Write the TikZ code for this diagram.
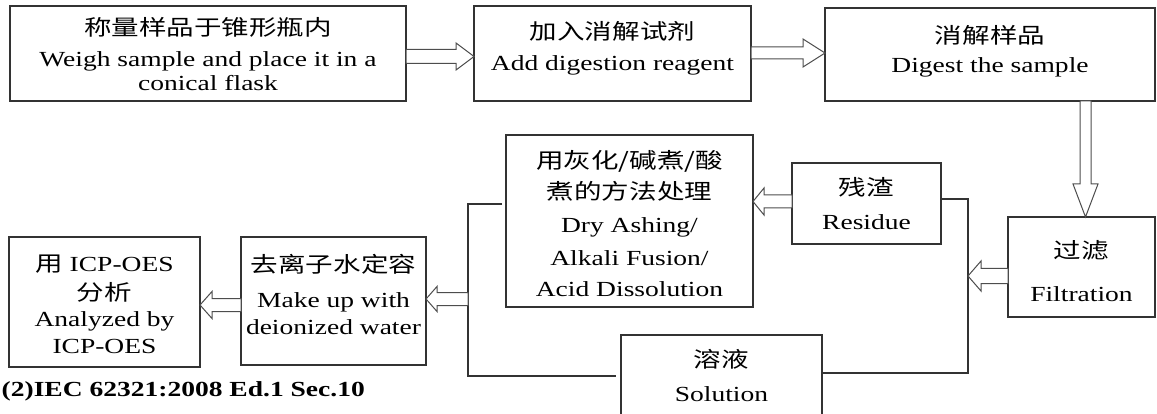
\documentclass[tikz,border=0pt]{standalone}
\usepackage{fontspec}
\setmainfont{Liberation Serif}
\newfontfamily\cjk{Noto Sans CJK SC}
\usepackage{graphicx}
\usetikzlibrary{calc}
\definecolor{ln}{HTML}{333333}
\definecolor{ar}{HTML}{4D4D4D}
\newcommand{\bt}[3]{\scalebox{1.28}[1]{\parbox[c][#2pt][t]{\dimexpr #1pt*25/32\relax}{\fontsize{21.5}{21.5}\selectfont\baselineskip=0pt\lineskip=0pt\lineskiplimit=-200pt\centering #3}}}
\newcommand{\fb}[1]{\rule{0pt}{#1pt}}
\newcommand{\harr}[5]{\draw[barrow] let \p1=(#1), \p2=(#2) in (\x1,{\y1+#3pt}) -- ({\x2-(#5)*1pt},{\y1+#3pt}) -- ({\x2-(#5)*1pt},{\y1+#4pt}) -- (\x2,\y1) -- ({\x2-(#5)*1pt},{\y1-#4pt}) -- ({\x2-(#5)*1pt},{\y1-#3pt}) -- (\x1,{\y1-#3pt}) -- cycle;}
\tikzset{
  box/.style={draw=ln, line width=1.2pt, inner sep=0pt, outer sep=0pt, anchor=north west},
  conn/.style={draw=ln, line width=1.2pt},
  barrow/.style={draw=ar, fill=white, line width=1pt, line join=miter}
}
\begin{document}
\begin{tikzpicture}[x=1pt,y=-1pt]
\useasboundingbox (0,0) rectangle (1157,414);
% boxes
\node[box] (b1) at (10,6) {\bt{396}{95}{\fb{29.5}{\cjk 称量样品于锥形瓶内}\\[31.2pt]Weigh sample and place it in a\\[24pt]conical flask}};
\node[box] (b2) at (474,6) {\bt{277}{95}{\fb{34}{\cjk 加入消解试剂}\\[31pt]Add digestion reagent}};
\node[box] (b3) at (825,8) {\bt{330}{93}{\fb{35.5}{\cjk 消解样品}\\[29.2pt]Digest the sample}};
\node[box] (filt) at (1008,217) {\bt{147}{100}{\fb{41}{\cjk 过滤}\\[43.7pt]Filtration}};
\node[box] (res) at (792,163) {\bt{149}{81}{\fb{32.5}{\cjk 残渣}\\[34.5pt]Residue}};
\node[box] (ash) at (506,135) {\bt{247}{172}{\fb{33.5}{\cjk 用灰化/碱煮/酸}\\[31.5pt]{\cjk 煮的方法处理}\\[32.3pt]Dry Ashing/\\[33.4pt]Alkali Fusion/\\[31pt]Acid Dissolution}};
\node[box] (sol) at (621,335) {\bt{201}{92}{\fb{32}{\cjk 溶液}\\[34.7pt]Solution}};
\node[box] (ion) at (241,237) {\bt{185}{128}{\fb{35}{\cjk 去离子水定容}\\[35pt]Make up with\\[28pt]deionized water}};
\node[box] (icp) at (9,237) {\bt{191}{130}{\fb{34.7}{\cjk 用} ICP-OES\\[28.3pt]{\cjk 分析}\\[26.7pt]Analyzed by\\[26.6pt]ICP-OES}};
\node[anchor=base west, inner sep=0pt] (foot) at (1.5,396) {\scalebox{1.28}[1]{\fontsize{21.5}{21.5}\selectfont\bfseries (2)IEC 62321:2008 Ed.1 Sec.10}};
% junction lines
\coordinate (vr) at (968,0);
\coordinate (vl) at (468,0);
\draw[conn] (res.east|-0,199) -- (vr|-0,199) -- (vr|-0,373) -- (sol.east|-0,373);
\draw[conn, shorten <=4pt, shorten >=5pt] (ash.west|-0,204) -- (vl|-0,204) -- (vl|-0,376) -- (sol.west|-0,376);
% block arrows
\harr{b1.east|-0,56.5}{b2.west|-0,56.5}{7}{13.5}{18}
\harr{b2.east|-0,53}{b3.west|-0,53}{6}{14}{22}
\draw[barrow] let \p1=(b3.south -| 1085.5,0), \p2=(filt.north -| 1085.5,0) in ({\x1-5.5pt},\y1) -- ({\x1-5.5pt},{\y2+33pt}) -- ({\x1-12.5pt},{\y2+33pt}) -- (\x1,\y2) -- ({\x1+12.5pt},{\y2+33pt}) -- ({\x1+5.5pt},{\y2+33pt}) -- ({\x1+5.5pt},\y1) -- cycle;
\harr{filt.west|-0,276}{vr|-0,276}{7.5}{15}{-13}
\harr{res.west|-0,201.5}{ash.east|-0,201.5}{6.5}{13.5}{-11}
\harr{vl|-0,299}{ion.east|-0,299}{6.5}{12.5}{-11}
\harr{ion.west|-0,305}{icp.east|-0,305}{6.5}{13.5}{-12}
\end{tikzpicture}
\end{document}
